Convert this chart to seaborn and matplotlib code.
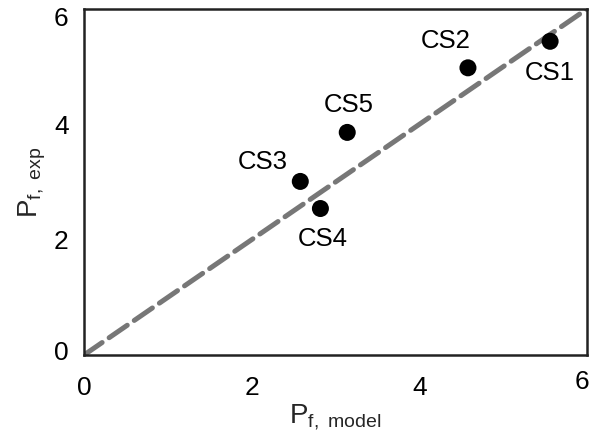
import matplotlib
matplotlib.use("Agg")
import matplotlib.pyplot as plt
import matplotlib.transforms as mtransforms
import seaborn as sns
import pandas as pd

# Case studies: model prediction vs experiment
cases = ["CS1", "CS2", "CS3", "CS4", "CS5"]
p_model = [5.56, 4.58, 2.58, 2.82, 3.14]
p_exp = [5.44, 4.98, 3.01, 2.54, 3.86]

# label offsets (points) relative to each marker
label_dx = [0, -16, -27, 1.5, 1]
label_dy = [-23, 19, 14, -22, 19.5]

parity = [0, 6]
ticks = [0, 2, 4, 6]

sns.set_theme(style="white")
plt.rcParams["font.family"] = ["Liberation Sans", "DejaVu Sans"]
plt.rcParams["mathtext.fontset"] = "custom"
plt.rcParams["mathtext.rm"] = "Liberation Sans"

df = pd.DataFrame({"case": cases, "model": p_model, "exp": p_exp})
line_df = pd.DataFrame({"x": parity, "y": parity})

fig = plt.figure(figsize=(5.92, 4.32), dpi=100)
ax = fig.add_axes([84 / 592, 1 - 355 / 432, 503 / 592, 346 / 432])

sns.lineplot(data=line_df, x="x", y="y", ax=ax, color="#777777", lw=3.6,
             dashes=False, zorder=1)
ax.lines[0].set_dashes([4.4, 1.7])
ax.lines[0].set_dash_capstyle("round")
sns.scatterplot(data=df, x="model", y="exp", ax=ax, color="black", s=150,
                edgecolor="none", zorder=3, legend=False)

for c, x, y, dx, dy in zip(cases, p_model, p_exp, label_dx, label_dy):
    ax.annotate(c, (x, y), xytext=(dx, dy), textcoords="offset points",
                ha="center", va="center", fontsize=18.5, color="black")

ax.set_xlim(0, 6)
ax.set_ylim(0, 6)
ax.set_xticks(ticks)
ax.set_yticks(ticks)
ax.tick_params(axis="x", pad=15)
ax.tick_params(axis="y", pad=11)
ax.tick_params(axis="both", direction="in", length=7, width=1.5,
               labelsize=19, colors="black")
for s in ax.spines.values():
    s.set_visible(True)
    s.set_color("#222222")
    s.set_linewidth(1.8)

# nudge the corner tick labels inward so they sit clear of the frame edges
def nudge(label, dx_px, dy_px):
    shift = mtransforms.ScaledTranslation(dx_px / 100, dy_px / 100,
                                          fig.dpi_scale_trans)
    label.set_transform(label.get_transform() + shift)

fig.canvas.draw()
nudge(ax.get_xticklabels()[-1], -5, 6)
nudge(ax.get_yticklabels()[-1], 0, -8)
nudge(ax.get_yticklabels()[0], 0, 5)

ax.set_xlabel(r"$\mathregular{P_{f,\;model}}$", fontsize=20, labelpad=2)
ax.set_ylabel(r"$\mathregular{P_{f,\;exp}}$", fontsize=20, labelpad=4)

fig.savefig("out.png", dpi=100, facecolor="white")
